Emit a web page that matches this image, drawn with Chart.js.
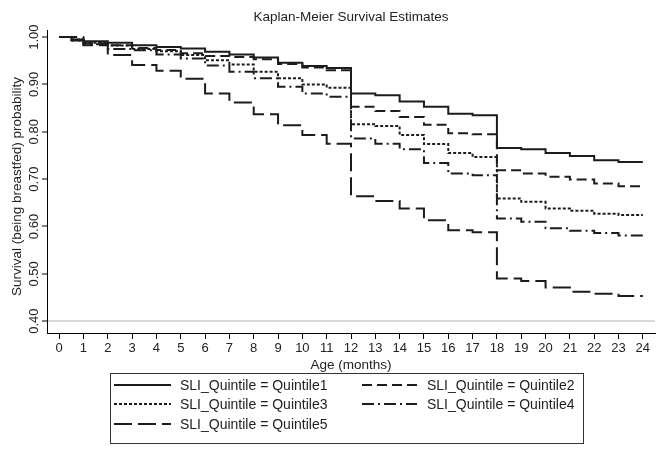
<!DOCTYPE html>
<html><head><meta charset="utf-8">
<script src="https://cdn.jsdelivr.net/npm/chart.js@4.4.1/dist/chart.umd.min.js"></script>
<style>html,body{margin:0;padding:0;background:#fff}#wrap{width:664px;height:455px}</style>
</head><body><div id="wrap"><canvas id="c" width="664" height="455"></canvas></div>
<script>
const months = [0, 0.5, 1, 2, 3, 4, 5, 6, 7, 8, 9, 10, 11, 12, 13, 14, 15, 16, 17, 18, 19, 20, 21, 22, 23, 24];
const quintile1 = [1.000, 0.995, 0.991, 0.988, 0.983, 0.979, 0.976, 0.969, 0.963, 0.957, 0.946, 0.939, 0.935, 0.881, 0.877, 0.864, 0.853, 0.838, 0.835, 0.766, 0.763, 0.755, 0.749, 0.740, 0.736, 0.736];
const quintile2 = [1.000, 0.993, 0.987, 0.983, 0.977, 0.973, 0.966, 0.960, 0.958, 0.953, 0.943, 0.936, 0.930, 0.853, 0.844, 0.831, 0.815, 0.797, 0.795, 0.719, 0.712, 0.705, 0.699, 0.691, 0.685, 0.685];
const quintile3 = [1.000, 0.995, 0.988, 0.982, 0.975, 0.970, 0.962, 0.951, 0.942, 0.927, 0.913, 0.900, 0.893, 0.816, 0.812, 0.793, 0.774, 0.755, 0.747, 0.659, 0.652, 0.638, 0.633, 0.627, 0.624, 0.624];
const quintile4 = [1.000, 0.993, 0.985, 0.975, 0.972, 0.963, 0.955, 0.940, 0.927, 0.913, 0.895, 0.881, 0.874, 0.786, 0.775, 0.763, 0.734, 0.712, 0.708, 0.617, 0.610, 0.596, 0.591, 0.586, 0.581, 0.581];
const quintile5 = [1.000, 1.000, 0.983, 0.962, 0.941, 0.929, 0.912, 0.881, 0.862, 0.837, 0.814, 0.793, 0.775, 0.664, 0.654, 0.638, 0.613, 0.592, 0.588, 0.490, 0.485, 0.471, 0.462, 0.458, 0.453, 0.453];
const seriesLabels = ['SLI_Quintile = Quintile1','SLI_Quintile = Quintile2','SLI_Quintile = Quintile3','SLI_Quintile = Quintile4','SLI_Quintile = Quintile5'];
const yTickValues = [0.40, 0.50, 0.60, 0.70, 0.80, 0.90, 1.00];
const xTickValues = [0,1,2,3,4,5,6,7,8,9,10,11,12,13,14,15,16,17,18,19,20,21,22,23,24];

const FONT = '"Liberation Sans", Arial, Helvetica, sans-serif';
const INK = '#1c1c1c';
const dashes = [[], [10,5], [3,2], [12,4,2,4], [18,6]];
const allSeries = [quintile1, quintile2, quintile3, quintile4, quintile5];

const datasets = allSeries.map((s, i) => ({
  label: seriesLabels[i],
  data: months.map((m, j) => ({x: m, y: s[j]})),
  borderColor: INK,
  borderWidth: 2,
  borderDash: dashes[i],
  stepped: true,
  pointRadius: 0,
  fill: false
}));

const customDraw = {
  id: 'customDraw',
  afterDraw(chart) {
    const ctx = chart.ctx;
    const ca = chart.chartArea;
    const ys = chart.scales.y;
    ctx.save();
    // title
    ctx.fillStyle = '#222';
    ctx.font = '13.5px ' + FONT;
    ctx.textAlign = 'center';
    ctx.textBaseline = 'middle';
    ctx.fillText('Kaplan-Meier Survival Estimates', (ca.left + ca.right) / 2, 17);
    // rotated y tick labels
    ctx.font = '13px ' + FONT;
    yTickValues.forEach(v => {
      const py = ys.getPixelForValue(v);
      ctx.save();
      ctx.translate(34, py);
      ctx.rotate(-Math.PI / 2);
      ctx.textAlign = 'center';
      ctx.textBaseline = 'middle';
      ctx.fillText(v.toFixed(2), 0, 0);
      ctx.restore();
    });
    // y axis title
    ctx.save();
    ctx.translate(17, (ca.top + ca.bottom) / 2 + 5);
    ctx.rotate(-Math.PI / 2);
    ctx.textAlign = 'center';
    ctx.textBaseline = 'middle';
    ctx.font = '13.5px ' + FONT;
    ctx.fillText('Survival (being breastfed) probability', 0, 0);
    ctx.restore();
    // legend
    const bx = 110, by = 373, bw = 473, bh = 70;
    ctx.strokeStyle = '#333';
    ctx.lineWidth = 1;
    ctx.setLineDash([]);
    ctx.strokeRect(bx + 0.5, by + 0.5, bw, bh);
    const cols = [{lx: 114, lw: 57, tx: 180}, {lx: 362, lw: 55, tx: 427}];
    const rows = [385, 404, 424];
    ctx.font = '14px ' + FONT;
    ctx.textAlign = 'left';
    ctx.textBaseline = 'middle';
    seriesLabels.forEach((lab, i) => {
      const c = cols[i % 2], r = rows[Math.floor(i / 2)];
      ctx.beginPath();
      ctx.setLineDash(dashes[i]);
      ctx.strokeStyle = INK;
      ctx.lineWidth = 2;
      ctx.moveTo(c.lx, r);
      ctx.lineTo(c.lx + c.lw, r);
      ctx.stroke();
      ctx.setLineDash([]);
      ctx.fillStyle = '#222';
      ctx.fillText(lab, c.tx, r + 1);
    });
    ctx.restore();
  }
};

new Chart(document.getElementById('c'), {
  type: 'line',
  data: { datasets },
  options: {
    responsive: false,
    animation: false,
    layout: { padding: { left: 0, right: 9, top: 30, bottom: 82 } },
    plugins: { legend: { display: false }, title: { display: false }, tooltip: { enabled: false } },
    scales: {
      x: {
        type: 'linear', min: -0.5, max: 24.5,
        afterBuildTicks: s => { s.ticks = xTickValues.map(v => ({value: v})); },
        afterFit: s => { s.height = 40; },
        border: { color: '#000', width: 1 },
        grid: { drawOnChartArea: false, tickLength: 6, color: '#000', tickWidth: 1 },
        ticks: { color: '#222', font: { family: FONT, size: 13 }, padding: 2, maxRotation: 0, autoSkip: false, callback: v => String(v) },
        title: { display: true, text: 'Age (months)', color: '#222', font: { family: FONT, size: 13.5 }, padding: { top: -4, bottom: 0 } }
      },
      y: {
        type: 'linear', min: 0.375, max: 1.015,
        afterBuildTicks: s => { s.ticks = yTickValues.map(v => ({value: v})); },
        afterFit: s => { s.width = 47; },
        border: { color: '#000', width: 1 },
        grid: {
          color: c => (c.tick && Math.abs(c.tick.value - 0.4) < 1e-6) ? '#d9d9d9' : 'rgba(0,0,0,0)',
          lineWidth: 2, tickColor: '#000', tickWidth: 1, tickLength: 5, drawTicks: true
        },
        ticks: { display: false }
      }
    }
  },
  plugins: [customDraw]
});
</script></body></html>
